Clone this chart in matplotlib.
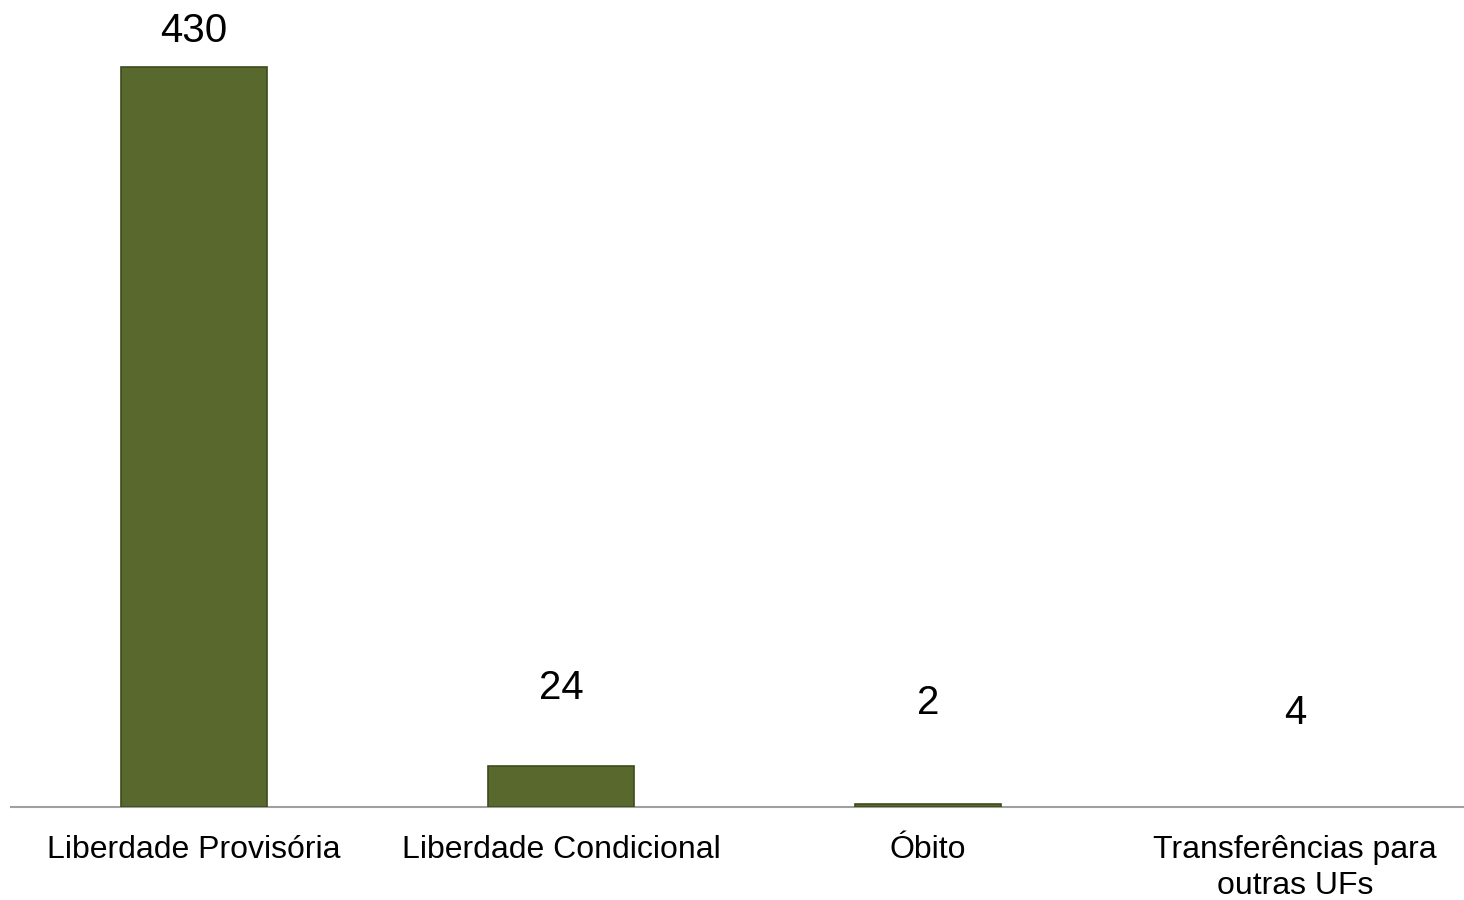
import matplotlib
matplotlib.use("Agg")
import matplotlib.pyplot as plt

plt.rcParams['font.family'] = ['Liberation Sans', 'DejaVu Sans']

categories = ["Liberdade Provisória", "Liberdade Condicional", "Óbito",
              "Transferências para\noutras UFs"]
values = [430, 24, 2, 4]
# label offsets above bar top (pixels), as placed in the original
label_offsets = [36, 78, 101, 87]
bar_visible = [True, True, True, False]

fig = plt.figure(figsize=(14.64, 9), dpi=100)
ax = fig.add_axes([10.5 / 1464, 93 / 900, 1468 / 1464, 807 / 900])

x = range(len(categories))
bars = ax.bar(x, values, width=0.4, color='#59692d', edgecolor='#3d4b1c',
              linewidth=1.2, zorder=3)
for b, vis in zip(bars, bar_visible):
    if not vis:
        b.set_visible(False)

for i, (v, off) in enumerate(zip(values, label_offsets)):
    ax.annotate(str(v), (i, v), xytext=(0, off * 0.72), textcoords='offset points',
                ha='center', va='center', fontsize=29)

ax.set_xlim(-0.5, 3.5)
ax.set_ylim(0, 469)
ax.set_xticks(list(x))
ax.set_xticklabels(categories, fontsize=23, linespacing=1.25, va='top')
ax.tick_params(axis='x', length=0, pad=20)
ax.set_yticks([])
for s in ['top', 'right', 'left']:
    ax.spines[s].set_visible(False)
ax.spines['bottom'].set_color('#a0a0a0')
ax.spines['bottom'].set_linewidth(1.5)

fig.savefig('out.png', dpi=100)
